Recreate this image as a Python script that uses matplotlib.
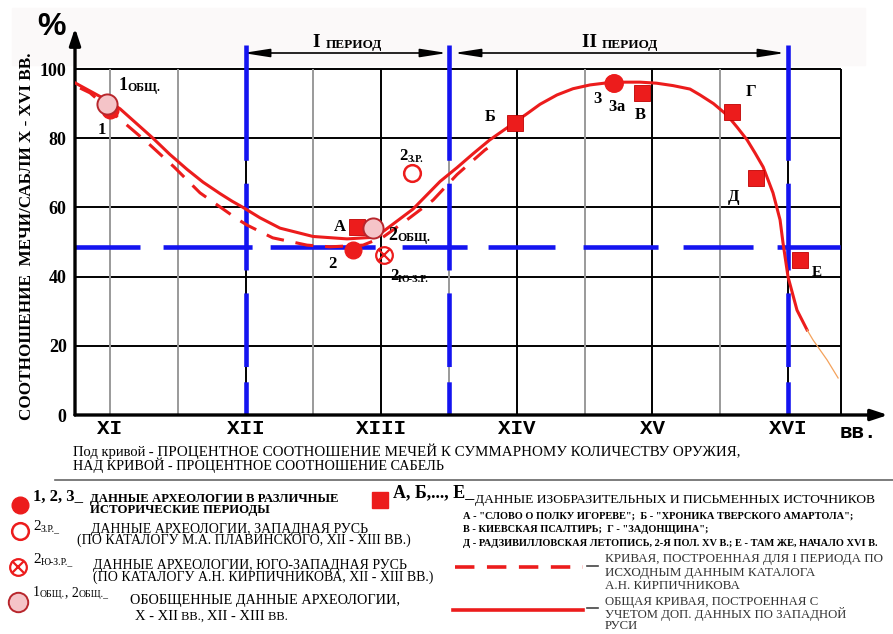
import matplotlib
matplotlib.use('Agg')
import matplotlib.pyplot as plt
from matplotlib.patches import Rectangle

plt.rcParams['lines.scale_dashes'] = False
SERIF = 'Liberation Serif'
MONO = 'Liberation Mono'
RED = '#ec1c1c'
BLUE = '#1414f0'

# x axis: centuries (XI = 11), y axis: % of swords
centuries = ['XI', 'XII', 'XIII', 'XIV', 'XV', 'XVI']
century_pos = [11, 12, 13, 14, 15, 16]
pct_ticks = [0, 20, 40, 60, 80, 100]

# general curve (with extra West-Rus data)
curve_x = [10.742, 10.948, 11.074, 11.317, 11.442, 11.568, 11.686, 11.811, 11.900,
           11.981, 12.106, 12.254, 12.497, 12.748, 12.917, 13.013, 13.234, 13.434,
           13.559, 13.677, 13.800, 13.928, 14.083, 14.171, 14.296, 14.414, 14.540,
           14.665, 14.798, 14.909, 15.030, 15.152, 15.277, 15.351, 15.450, 15.550,
           15.624, 15.698, 15.757, 15.816, 15.889, 15.941, 15.963, 16.000, 16.066,
           16.140]
curve_y = [96.0, 91.6, 88.5, 80.0, 75.3, 71.0, 67.3, 64.0, 61.8,
           60.0, 57.0, 54.0, 51.6, 50.9, 51.3, 53.0, 59.5, 67.5,
           71.5, 75.5, 79.5, 83.0, 87.3, 89.8, 92.5, 94.3, 95.4,
           96.0, 96.2, 96.2, 95.9, 95.2, 94.2, 92.5, 90.0, 86.7,
           83.2, 79.5, 75.7, 71.7, 64.2, 56.4, 49.7, 39.9, 30.3,
           24.6]
tail_x = [16.140, 16.184, 16.288, 16.369]
tail_y = [24.6, 21.7, 15.9, 10.7]

# period I curve (Kirpichnikov catalogue)
dash_x = [10.779, 10.853, 11.074, 11.280, 11.472, 11.664, 11.929, 12.010, 12.200,
          12.453, 12.622, 12.866, 13.013, 13.190, 13.382, 13.559, 13.765, 13.840]
dash_y = [94.5, 93.1, 85.5, 78.6, 71.7, 64.2, 56.9, 54.9, 51.2,
          49.1, 48.6, 49.1, 51.4, 56.4, 62.1, 69.5, 76.6, 78.6]

# archaeology 1, 2, 3
arch_x = [11.00, 12.79, 14.71]
arch_y = [88.2, 47.7, 96.0]
arch_lbl = ['1', '2', '3']
# 2 з.р. (West Rus)
west_x = [13.23]
west_y = [69.9]
# 2 ю-з.р. and 3а (South-West Rus)
sw_x = [13.02, 14.72]
sw_y = [46.2, 96.0]
# generalised 1общ., 2общ.
gen_x = [10.98, 12.94]
gen_y = [89.9, 54.0]
# pictorial and written sources
src_lbl = ['А', 'Б', 'В', 'Г', 'Д', 'Е']
src_x = [12.82, 13.99, 14.92, 15.59, 15.76, 16.09]
src_y = [54.3, 84.4, 93.1, 87.6, 68.5, 44.8]

saber_level = 48.5
period_bounds = [12, 13.5, 16]
grid_right = 16.39


def tag(a, x, y, parts, off=(0, 0), coords='data', ha='left', color='black'):
    # chain of text pieces sharing a baseline, e.g. big "2" + small "ОБЩ."
    t = None
    for s, size, weight in parts:
        kw = dict(fontsize=size, fontweight=weight, family=SERIF, color=color, zorder=8)
        if t is None:
            t = a.annotate(s, xy=(x, y), xycoords=coords, xytext=off,
                           textcoords='offset pixels', ha=ha, va='baseline', **kw)
        else:
            t = a.annotate(s, xy=(1, 0), xycoords=t, ha='left', va='bottom', **kw)
    return t


def block(a, x, ytop, text, size, weight='normal', color='black', ls=0.9):
    a.text(x, ytop, text, fontsize=size, fontweight=weight, family=SERIF,
           color=color, ha='left', va='top', linespacing=ls)


W, H = 893, 634
fig = plt.figure(figsize=(W / 100, H / 100), dpi=100)
bg = fig.add_axes([0, 0, 1, 1])
bg.set_xlim(0, W)
bg.set_ylim(H, 0)
bg.axis('off')
bg.add_patch(Rectangle((12, 8), 853, 57, color='#fbf9f9', zorder=0))

X0, X1, Y0, Y1 = 75, 888, 415, 28
ax = fig.add_axes([X0 / W, 1 - Y0 / H, (X1 - X0) / W, (Y0 - Y1) / H])
ax.set_facecolor('none')
ax.set_xlim(10.742, 16.737)
ax.set_ylim(0, 111.85)
for s in ax.spines.values():
    s.set_visible(False)

# grid
ax.hlines(pct_ticks[1:], 10.742, grid_right, color='black', lw=1.4, zorder=1)
for k in range(11):
    h = 11 + k * 0.5
    col = 'black' if (h >= 12 and h == int(h)) else '#9a9a9a'
    ax.vlines(h, 0, 100, color=col, lw=1.4, zorder=1)
ax.vlines(grid_right, 0, 100, color='black', lw=1.4, zorder=1)

# blue period boundaries and saber level
vdash = (0, (83, 16.5, 62.5, 16.5, 53, 11, 30, 1))
for b in period_bounds:
    ax.plot([b, b], [106.9, 0], color=BLUE, lw=3.3, ls=vdash, zorder=2,
            dash_capstyle='butt')
hdash = (0, (46.8, 16.6, 64.1, 13, 75.6, 19.4, 46.8, 15.1, 48.2, 20.2, 54, 18, 50.4, 17.3, 45.4, 1))
ax.plot([10.742, grid_right], [saber_level, saber_level], color=BLUE, lw=3.3,
        ls=hdash, zorder=2, dash_capstyle='butt')

# curves
ax.plot(curve_x, curve_y, color=RED, lw=2.2, zorder=4, solid_joinstyle='round')
ax.plot(tail_x, tail_y, color='#f4a25c', lw=0.9, zorder=4)
ax.plot(dash_x, dash_y, color=RED, lw=2.2, ls=(0, (13, 8.5)), zorder=4)

# axes arrows
arr = dict(arrowstyle='-|>,head_length=1.0,head_width=0.33', lw=2.4, color='black',
           shrinkA=0, shrinkB=0)
ax.annotate('', xy=(0, 1), xytext=(0, 0), xycoords='axes fraction', arrowprops=arr)
ax.annotate('', xy=(1, 0), xytext=(0, 0), xycoords='axes fraction', arrowprops=arr)

ax.set_yticks(pct_ticks, [str(p) for p in pct_ticks], family=SERIF,
              fontweight='bold', fontsize=13)
ax.set_xticks(century_pos, centuries, family=MONO, fontweight='bold', fontsize=15)
ax.tick_params(length=0)
ax.tick_params(axis='y', pad=6)
ax.tick_params(axis='x', pad=3)

# points
ax.plot(arch_x, arch_y, 'o', ms=12, color=RED, zorder=5)
ax.plot(west_x, west_y, 'o', ms=12, mfc='white', mec=RED, mew=1.8, zorder=5)
ax.plot(sw_x, sw_y, 'o', ms=12, mfc='none', mec=RED, mew=1.6, zorder=6)
ax.plot(sw_x, sw_y, 'x', ms=8, mec=RED, mew=1.6, zorder=6)
ax.plot(gen_x, gen_y, 'o', ms=14.5, mfc='#f5c4c8', mec='#b8262c', mew=1.4, zorder=6)
ax.plot(src_x, src_y, 's', ms=11, color=RED, mec='#c00000', mew=0.6, zorder=5)

pt_off = {'1': (-8, -24), '2': (-20, -18), '3': (-16, -20)}
for lb, x, y in zip(arch_lbl, arch_x, arch_y):
    tag(ax, x, y, [(lb, 12, 'bold')], off=pt_off[lb], ha='center')
tag(ax, 14.71, 96.0, [('3', 12, 'bold'), ('а', 12, 'bold')], off=(-5, -28))
src_off = [(-17, -4), (-25, 2), (-1, -26), (19, 16), (-22, -23), (17, -16)]
for lb, x, y, o in zip(src_lbl, src_x, src_y, src_off):
    tag(ax, x, y, [(lb, 12 if lb != 'Е' else 11, 'bold')], off=o, ha='center')
tag(ax, gen_x[0], gen_y[0], [('1', 13, 'bold'), ('ОБЩ.', 8.5, 'bold')], off=(11, 14))
tag(ax, gen_x[1], gen_y[1], [('2', 13, 'bold'), ('ОБЩ.', 8.5, 'bold')], off=(15, -12))
tag(ax, sw_x[0], sw_y[0], [('2', 12, 'bold'), ('Ю-З.Р.', 7.5, 'bold')], off=(6, -25))
tag(ax, west_x[0], west_y[0], [('2', 12, 'bold'), ('З.Р.', 7.5, 'bold')], off=(-13, 13))

# periods on top
parr = dict(arrowstyle='<|-|>,head_length=1.6,head_width=0.25', lw=1.2, color='black',
            shrinkA=0, shrinkB=0)
bg.annotate('', xy=(243, 53), xytext=(447, 53), arrowprops=parr)
bg.annotate('', xy=(454, 53), xytext=(785, 53), arrowprops=parr)
tag(bg, 313, 47, [('I ', 14, 'bold'), ('ПЕРИОД', 9.5, 'bold')])
tag(bg, 582, 47, [('II ', 14, 'bold'), ('ПЕРИОД', 9.5, 'bold')])

bg.text(52, 27, '%', fontsize=23, fontweight='bold', family='Liberation Sans',
        ha='center', va='center')
bg.text(858, 432, 'вв.', fontsize=15, fontweight='bold', family=MONO,
        ha='center', va='center')
bg.text(27, 236, 'СООТНОШЕНИЕ  МЕЧИ/САБЛИ X - XVI ВВ.', rotation=90, family=SERIF,
        fontweight='bold', fontsize=12.3, ha='center', va='center')

# caption
tag(bg, 73, 456, [('Под кривой', 10.5, 'normal'),
                  (' - ПРОЦЕНТНОЕ СООТНОШЕНИЕ МЕЧЕЙ К СУММАРНОМУ КОЛИЧЕСТВУ ОРУЖИЯ,', 10.8, 'normal')])
tag(bg, 73, 470, [('НАД КРИВОЙ - ПРОЦЕНТНОЕ СООТНОШЕНИЕ САБЕЛЬ', 10.2, 'normal')])
bg.plot([55, 893], [480, 480], color='#666666', lw=1.2)

# legend, left column
bg.plot(20, 505, 'o', ms=12, color=RED)
tag(bg, 33, 501, [('1, 2, 3_', 12, 'bold')])
block(bg, 90, 493, 'ДАННЫЕ АРХЕОЛОГИИ В РАЗЛИЧНЫЕ\nИСТОРИЧЕСКИЕ ПЕРИОДЫ', 9.2,
      weight='bold', ls=0.85)

bg.plot(20, 531, 'o', ms=12, mfc='white', mec=RED, mew=1.8)
tag(bg, 33, 530, [('2', 11, 'normal'), ('З.Р._', 7, 'normal')])
block(bg, 77, 522.5, '    ДАННЫЕ АРХЕОЛОГИИ, ЗАПАДНАЯ РУСЬ\n'
      '(ПО КАТАЛОГУ М.А. ПЛАВИНСКОГО, XII - XIII ВВ.)', 10, ls=0.76)

bg.plot(18, 567, 'o', ms=12, mfc='none', mec=RED, mew=1.6)
bg.plot(18, 567, 'x', ms=8, mec=RED, mew=1.6)
tag(bg, 33, 563, [('2', 11, 'normal'), ('Ю-З.Р._', 7, 'normal')])
block(bg, 93, 559.5, 'ДАННЫЕ АРХЕОЛОГИИ, ЮГО-ЗАПАДНАЯ РУСЬ\n'
      '(ПО КАТАЛОГУ А.Н. КИРПИЧНИКОВА, XII - XIII ВВ.)', 10, ls=0.76)

bg.plot(18, 602, 'o', ms=14, mfc='#f5c4c8', mec='#b8262c', mew=1.4)
tag(bg, 33, 596, [('1', 10, 'normal'), ('ОБЩ.', 7, 'normal'), (', 2', 10, 'normal'),
                  ('ОБЩ._', 7, 'normal')])
tag(bg, 130, 604, [('ОБОБЩЕННЫЕ ДАННЫЕ АРХЕОЛОГИИ,', 10.3, 'normal')])
tag(bg, 135, 620, [('X - XII', 10.5, 'normal'), (' ВВ., ', 9, 'normal'),
                   ('XII - XIII', 10.5, 'normal'), (' ВВ.', 9, 'normal')])

# legend, right column
bg.plot(380, 500, 's', ms=11, color=RED)
tag(bg, 393, 497, [('А, Б,..., Е_', 13, 'bold')])
tag(bg, 475, 503, [('ДАННЫЕ ИЗОБРАЗИТЕЛЬНЫХ И ПИСЬМЕННЫХ ИСТОЧНИКОВ', 9.7, 'normal')])
block(bg, 463, 512,
      'А - "СЛОВО О ПОЛКУ ИГОРЕВЕ";  Б - "ХРОНИКА ТВЕРСКОГО АМАРТОЛА";\n'
      'В - КИЕВСКАЯ ПСАЛТИРЬ;  Г - "ЗАДОНЩИНА";\n'
      'Д - РАДЗИВИЛЛОВСКАЯ ЛЕТОПИСЬ, 2-Я ПОЛ. XV В.; Е - ТАМ ЖЕ, НАЧАЛО XVI В.',
      7.5, weight='bold', ls=1.62)

bg.plot([455, 583], [567, 567], color=RED, lw=2.6, ls=(0, (14, 9)))
bg.plot([587, 598], [566, 566], color='#444444', lw=1.2)
block(bg, 605, 553, 'КРИВАЯ, ПОСТРОЕННАЯ ДЛЯ I ПЕРИОДА ПО\nИСХОДНЫМ ДАННЫМ КАТАЛОГА\n'
      'А.Н. КИРПИЧНИКОВА', 9.4, color='#333333', ls=1.18)

bg.plot([453, 583], [610, 610], color=RED, lw=2.6)
bg.plot([587, 598], [608, 608], color='#444444', lw=1.2)
block(bg, 605, 596, 'ОБЩАЯ КРИВАЯ, ПОСТРОЕННАЯ С\nУЧЕТОМ ДОП. ДАННЫХ ПО ЗАПАДНОЙ\nРУСИ',
      9.2, color='#333333', ls=0.92)

fig.savefig('out.png', dpi=100)
